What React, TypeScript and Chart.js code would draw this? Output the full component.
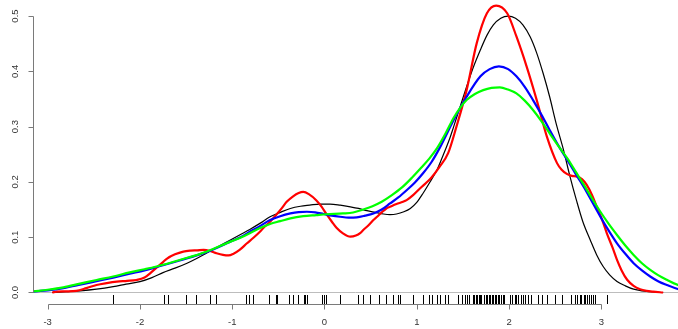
import { useEffect, useRef } from 'react';
import { Chart, registerables } from 'chart.js';

Chart.register(...registerables);

// ---- data ----
const xTickValues = [-3, -2, -1, 0, 1, 2, 3];
const xTickLabels = ['-3', '-2', '-1', '0', '1', '2', '3'];
const yTickValues = [0, 0.1, 0.2, 0.3, 0.4, 0.5];
const yTickLabels = ['0.0', '0.1', '0.2', '0.3', '0.4', '0.5'];

const rugValues = [
  -2.29, -1.74, -1.70, -1.50, -1.39, -1.24, -1.18, -0.85, -0.82, -0.78, -0.60, -0.53, -0.52,
  -0.39, -0.34, -0.29, -0.22, -0.21, -0.19, -0.03, -0.01, 0.02, 0.17, 0.36, 0.42, 0.49, 0.59,
  0.67, 0.74, 0.80, 0.82, 0.96, 1.07, 1.13, 1.17, 1.22, 1.25, 1.31, 1.34, 1.45, 1.49, 1.52,
  1.54, 1.57, 1.61, 1.62, 1.64, 1.65, 1.67, 1.69, 1.70, 1.73, 1.75, 1.76, 1.78, 1.79, 1.81,
  1.83, 1.85, 1.86, 1.88, 1.89, 1.91, 1.93, 1.95, 2.01, 2.03, 2.06, 2.08, 2.10, 2.13, 2.15,
  2.17, 2.21, 2.24, 2.31, 2.36, 2.41, 2.50, 2.57, 2.67, 2.71, 2.74, 2.77, 2.78, 2.81, 2.82,
  2.85, 2.87, 2.89, 2.91, 2.93, 3.06,
];

const blackX = [-2.95, -2.80, -2.65, -2.47, -2.29, -2.15, -2.00, -1.87, -1.75, -1.62, -1.49, -1.38, -1.28, -1.15, -1.02, -0.91, -0.81, -0.70, -0.59, -0.48, -0.37, -0.26, -0.16, -0.05, 0.06, 0.17, 0.28, 0.37, 0.46, 0.55, 0.64, 0.71, 0.78, 0.86, 0.93, 1.00, 1.07, 1.14, 1.22, 1.29, 1.36, 1.40, 1.47, 1.54, 1.61, 1.69, 1.76, 1.83, 1.91, 1.99, 2.07, 2.15, 2.23, 2.30, 2.37, 2.44, 2.51, 2.59, 2.66, 2.73, 2.80, 2.88, 2.95, 3.02, 3.09, 3.17, 3.26, 3.35, 3.44, 3.53, 3.67];
const blackY = [0, 0.0015, 0.003, 0.006, 0.0105, 0.015, 0.0196, 0.027, 0.036, 0.044, 0.053, 0.062, 0.071, 0.083, 0.095, 0.105, 0.114, 0.125, 0.137, 0.145, 0.152, 0.156, 0.158, 0.160, 0.160, 0.158, 0.155, 0.152, 0.148, 0.145, 0.142, 0.141, 0.142, 0.146, 0.152, 0.163, 0.180, 0.199, 0.222, 0.250, 0.280, 0.300, 0.336, 0.372, 0.406, 0.439, 0.465, 0.484, 0.496, 0.500, 0.496, 0.484, 0.462, 0.433, 0.396, 0.354, 0.306, 0.258, 0.210, 0.167, 0.128, 0.095, 0.068, 0.047, 0.032, 0.020, 0.012, 0.006, 0.003, 0.0015, 0];

const redX = [-2.95, -2.90, -2.80, -2.69, -2.58, -2.47, -2.36, -2.25, -2.14, -2.04, -1.95, -1.89, -1.82, -1.75, -1.71, -1.62, -1.53, -1.45, -1.38, -1.31, -1.24, -1.17, -1.10, -1.04, -0.99, -0.92, -0.84, -0.77, -0.70, -0.66, -0.59, -0.52, -0.46, -0.41, -0.34, -0.28, -0.23, -0.17, -0.09, -0.03, 0.02, 0.08, 0.13, 0.20, 0.28, 0.34, 0.39, 0.42, 0.48, 0.53, 0.57, 0.62, 0.67, 0.71, 0.78, 0.85, 0.89, 0.96, 1.04, 1.10, 1.16, 1.25, 1.34, 1.43, 1.54, 1.65, 1.76, 1.86, 1.98, 2.08, 2.19, 2.30, 2.41, 2.52, 2.57, 2.63, 2.68, 2.73, 2.79, 2.84, 2.90, 2.95, 3.01, 3.06, 3.12, 3.17, 3.22, 3.28, 3.35, 3.42, 3.49, 3.56, 3.67];
const redY = [0, 0.0015, 0.002, 0.003, 0.008, 0.0136, 0.017, 0.0196, 0.021, 0.0226, 0.027, 0.0347, 0.045, 0.055, 0.061, 0.069, 0.074, 0.0757, 0.0762, 0.077, 0.075, 0.071, 0.068, 0.067, 0.0697, 0.077, 0.089, 0.099, 0.110, 0.117, 0.128, 0.141, 0.153, 0.164, 0.174, 0.180, 0.182, 0.178, 0.167, 0.155, 0.142, 0.128, 0.117, 0.107, 0.101, 0.103, 0.108, 0.113, 0.122, 0.131, 0.137, 0.145, 0.152, 0.155, 0.160, 0.164, 0.167, 0.176, 0.189, 0.198, 0.208, 0.228, 0.252, 0.300, 0.366, 0.451, 0.505, 0.519, 0.505, 0.463, 0.409, 0.348, 0.282, 0.234, 0.222, 0.214, 0.211, 0.210, 0.205, 0.195, 0.176, 0.155, 0.131, 0.107, 0.082, 0.059, 0.040, 0.023, 0.012, 0.006, 0.003, 0.0015, 0];

const blueX = [-3.20, -3.10, -3.00, -2.83, -2.65, -2.47, -2.29, -2.11, -1.95, -1.82, -1.57, -1.28, -1.02, -0.90, -0.81, -0.70, -0.59, -0.48, -0.37, -0.28, -0.19, -0.10, -0.01, 0.08, 0.17, 0.26, 0.35, 0.44, 0.53, 0.62, 0.71, 0.80, 0.89, 0.98, 1.07, 1.16, 1.25, 1.40, 1.54, 1.69, 1.79, 1.89, 1.99, 2.08, 2.17, 2.26, 2.35, 2.44, 2.53, 2.63, 2.72, 2.81, 2.90, 2.99, 3.08, 3.17, 3.26, 3.35, 3.44, 3.53, 3.62, 3.71, 3.83, 3.95];
const blueY = [0.0012, 0.0025, 0.004, 0.008, 0.014, 0.0205, 0.027, 0.034, 0.040, 0.046, 0.058, 0.073, 0.092, 0.101, 0.110, 0.120, 0.131, 0.138, 0.143, 0.1455, 0.146, 0.145, 0.142, 0.139, 0.137, 0.1355, 0.136, 0.139, 0.143, 0.150, 0.161, 0.172, 0.185, 0.199, 0.216, 0.236, 0.262, 0.312, 0.354, 0.391, 0.404, 0.409, 0.404, 0.391, 0.372, 0.348, 0.322, 0.294, 0.267, 0.240, 0.215, 0.191, 0.164, 0.137, 0.112, 0.089, 0.070, 0.053, 0.040, 0.029, 0.020, 0.0136, 0.0063, 0.003];

const greenX = [-3.20, -3.10, -3.00, -2.83, -2.65, -2.47, -2.29, -2.11, -1.95, -1.82, -1.57, -1.28, -1.02, -0.90, -0.79, -0.68, -0.59, -0.48, -0.37, -0.23, -0.09, 0.02, 0.20, 0.31, 0.42, 0.52, 0.62, 0.73, 0.84, 0.95, 1.05, 1.14, 1.22, 1.31, 1.40, 1.47, 1.54, 1.63, 1.72, 1.81, 1.90, 1.99, 2.08, 2.17, 2.26, 2.35, 2.44, 2.53, 2.63, 2.72, 2.81, 2.90, 2.99, 3.08, 3.17, 3.26, 3.35, 3.44, 3.53, 3.62, 3.71, 3.83, 3.95];
const greenY = [0.0013, 0.003, 0.005, 0.0094, 0.016, 0.0226, 0.029, 0.0365, 0.042, 0.047, 0.0588, 0.0738, 0.092, 0.100, 0.109, 0.118, 0.124, 0.129, 0.134, 0.138, 0.140, 0.1415, 0.143, 0.1447, 0.150, 0.156, 0.164, 0.176, 0.190, 0.208, 0.226, 0.243, 0.261, 0.287, 0.316, 0.334, 0.348, 0.359, 0.366, 0.370, 0.371, 0.367, 0.360, 0.347, 0.330, 0.310, 0.288, 0.266, 0.243, 0.219, 0.195, 0.170, 0.146, 0.124, 0.104, 0.085, 0.068, 0.053, 0.041, 0.031, 0.023, 0.0136, 0.008];

const pts = (xs: number[], ys: number[]) => xs.map((x, i) => ({ x, y: ys[i] }));

const FONT = '9.5px "Liberation Sans", Arial, sans-serif';

const rPlot = {
  id: 'rPlot',
  beforeDatasetsDraw(chart: any) {
    const { ctx, chartArea, scales } = chart;
    const y0 = Math.round(scales.y.getPixelForValue(0)) + 0.5;
    ctx.save();
    ctx.strokeStyle = '#bdbdbd';
    ctx.lineWidth = 1;
    ctx.beginPath();
    ctx.moveTo(chartArea.left, y0);
    ctx.lineTo(chartArea.right, y0);
    ctx.stroke();
    ctx.restore();
  },
  afterDraw(chart: any) {
    const { ctx, chartArea, scales } = chart;
    const xs = scales.x;
    const ys = scales.y;
    ctx.save();
    // rug
    ctx.strokeStyle = '#000';
    ctx.lineWidth = 1;
    ctx.beginPath();
    for (const v of rugValues) {
      const px = Math.round(xs.getPixelForValue(v)) + 0.5;
      ctx.moveTo(px, chartArea.bottom);
      ctx.lineTo(px, chartArea.bottom - 9);
    }
    ctx.stroke();

    // axes
    ctx.strokeStyle = '#7a7a7a';
    ctx.fillStyle = '#333';
    ctx.font = FONT;
    const ay = chartArea.bottom + 0.5;
    const xa = xs.getPixelForValue(xTickValues[0]);
    const xb = xs.getPixelForValue(xTickValues[xTickValues.length - 1]);
    ctx.beginPath();
    ctx.moveTo(Math.round(xa) + 0.5, ay);
    ctx.lineTo(Math.round(xb) + 0.5, ay);
    xTickValues.forEach((v) => {
      const px = Math.round(xs.getPixelForValue(v)) + 0.5;
      ctx.moveTo(px, ay);
      ctx.lineTo(px, ay + 5);
    });
    const ax = chartArea.left + 0.5;
    const ya = ys.getPixelForValue(yTickValues[0]);
    const yb = ys.getPixelForValue(yTickValues[yTickValues.length - 1]);
    ctx.moveTo(ax, Math.round(ya) + 0.5);
    ctx.lineTo(ax, Math.round(yb) + 0.5);
    yTickValues.forEach((v) => {
      const py = Math.round(ys.getPixelForValue(v)) + 0.5;
      ctx.moveTo(ax, py);
      ctx.lineTo(ax - 5, py);
    });
    ctx.stroke();

    ctx.textAlign = 'center';
    ctx.textBaseline = 'middle';
    xTickValues.forEach((v, i) => {
      ctx.fillText(xTickLabels[i], xs.getPixelForValue(v), chartArea.bottom + 18);
    });
    yTickValues.forEach((v, i) => {
      ctx.save();
      ctx.translate(chartArea.left - 18, ys.getPixelForValue(v));
      ctx.rotate(-Math.PI / 2);
      ctx.fillText(yTickLabels[i], 0, 0);
      ctx.restore();
    });
    ctx.restore();
  },
};

export default function App() {
  const ref = useRef<HTMLCanvasElement | null>(null);
  useEffect(() => {
    document.body.style.margin = '0';
    const canvas = ref.current!;
    const line = (data: any, color: string, width: number) => ({
      data,
      borderColor: color,
      borderWidth: width,
      pointRadius: 0,
      fill: false,
      cubicInterpolationMode: 'monotone' as const,
    });
    const chart = new Chart(canvas, {
      type: 'line',
      data: {
        datasets: [
          line(pts(greenX, greenY), '#00ff00', 2.2),
          line(pts(blueX, blueY), '#0000ff', 2.2),
          line(pts(redX, redY), '#ff0000', 2.2),
          line(pts(blackX, blackY), '#000000', 1.2),
        ],
      },
      options: {
        responsive: false,
        animation: false,
        devicePixelRatio: 1,
        layout: { padding: { left: 33, right: 0, top: 0, bottom: 25 } },
        plugins: { legend: { display: false }, tooltip: { enabled: false } },
        scales: {
          x: { type: 'linear', min: -3.159, max: 3.831, display: false },
          y: { type: 'linear', min: -0.0208, max: 0.529, display: false },
        },
      },
      plugins: [rPlot],
    });
    return () => chart.destroy();
  }, []);
  return (
    <canvas
      ref={ref}
      width={678}
      height={329}
      style={{ display: 'block', width: 678, height: 329, position: 'absolute', left: 0, top: 0 }}
    />
  );
}
